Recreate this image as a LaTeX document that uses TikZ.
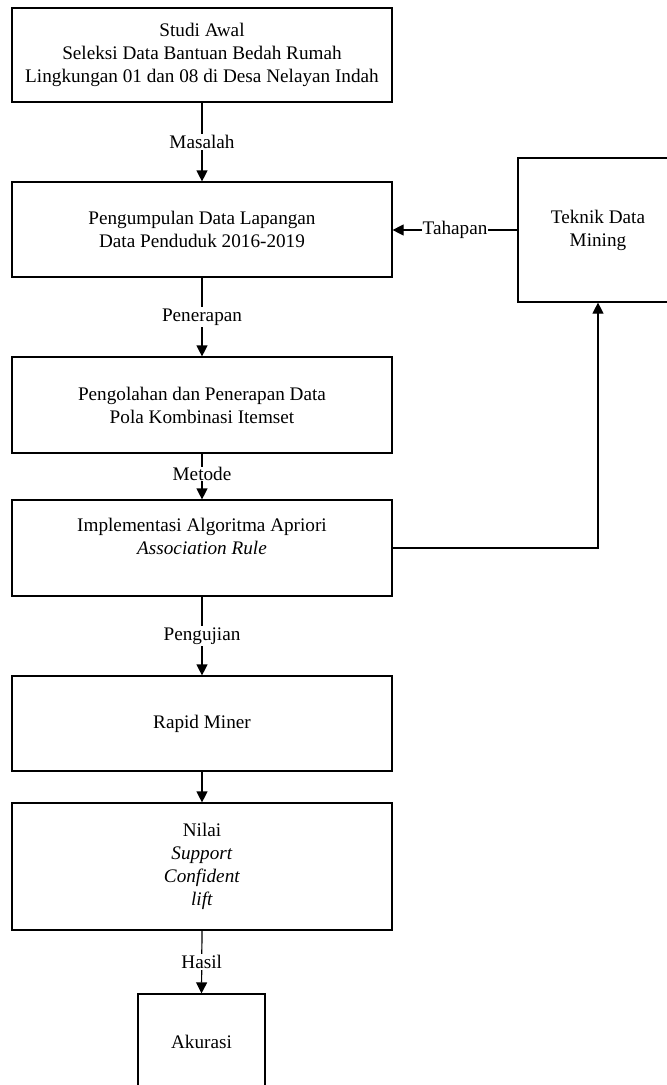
\documentclass[tikz,border=0pt]{standalone}
\usepackage{fontspec}
\setmainfont{Liberation Serif}
\usetikzlibrary{arrows.meta}
\begin{document}
\begin{tikzpicture}[x=1pt,y=-1pt,
  every node/.style={font=\fontsize{19.2}{23}\selectfont},
  box/.style={draw, line width=1.2pt, inner sep=0pt, align=center},
  txt/.style={inner sep=0pt, align=center},
  conn/.style={line width=1.2pt, -{Triangle[length=11pt,width=11pt]}},
  lbl/.style={fill=white, inner sep=1.2pt}]
  \useasboundingbox (0,0) rectangle (667,1085);
  \clip (0,0) rectangle (667,1085);

  % main column of steps
  \node[box, minimum width=380pt, minimum height=94pt] (b1) at (202,55)
    {Studi Awal\\Seleksi Data Bantuan Bedah Rumah\\Lingkungan 01 dan 08 di Desa Nelayan Indah};
  \node[box, minimum width=380pt, minimum height=95pt] (b2) at (202,229.5)
    {Pengumpulan Data Lapangan\\Data Penduduk 2016-2019};
  \node[box, minimum width=380pt, minimum height=96pt] (b3) at (202,405)
    {Pengolahan dan Penerapan Data\\Pola Kombinasi Itemset};
  \node[box, minimum width=380pt, minimum height=96pt] (b4) at (202,548) {};
  \node[txt] (b4t) at (202,536) {Implementasi Algoritma Apriori\\\textit{Association Rule}};
  \node[box, minimum width=380pt, minimum height=95pt] (b5) at (202,723.5) {Rapid Miner};
  \node[box, minimum width=380pt, minimum height=127pt] (b6) at (202,866.5)
    {Nilai\\\textit{Support}\\\textit{Confident}\\\textit{lift}};
  \node[box, minimum width=127pt, minimum height=96pt] (b7) at (201.5,1042) {Akurasi};

  % side box
  \node[box, minimum width=160pt, minimum height=144pt] (tk) at (598,230)
    {Teknik Data\\Mining};

  % connectors
  \draw[conn] (b1.south) -- (b2.north) node[lbl, midway] {Masalah};
  \draw[conn] (b2.south) -- (b3.north) node[lbl, midway] {Penerapan};
  \draw[conn] (b3.south) -- (b4.north) node[lbl, pos=0.44, inner sep=0.4pt] {Metode};
  \draw[conn] (b4.south) -- (b5.north) node[lbl, midway] {Pengujian};
  \draw[conn] (b5.south) -- (b6.north);
  \draw[conn] (b6.south) -- (b7.north) node[lbl, midway] {Hasil};
  \draw[conn] (tk.west) -- (tk.west -| b2.east) node[lbl, midway, inner sep=0.5pt] {Tahapan};
  \draw[conn] (b4.east) -| (tk.south);
\end{tikzpicture}
\end{document}
